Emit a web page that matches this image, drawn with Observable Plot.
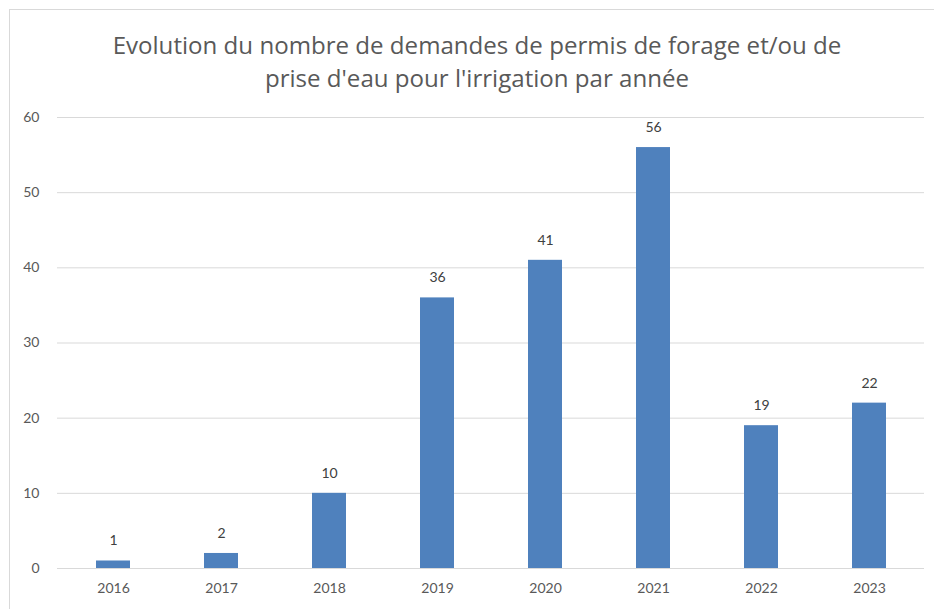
<!DOCTYPE html>
<html><head><meta charset="utf-8">
<script src="https://cdn.jsdelivr.net/npm/d3@7"></script>
<script src="https://cdn.jsdelivr.net/npm/@observablehq/plot@0.6"></script>
<style>
  body{margin:0;background:#fff;overflow:hidden;}
  #wrap{position:relative;width:934px;height:609px;overflow:hidden;font-family:Lato,"Open Sans",sans-serif;background:#fff;}
  #frame{position:absolute;left:9px;top:9px;width:1000px;height:1000px;border:1px solid #d9d9d9;box-sizing:border-box;}
  #title{position:absolute;left:10px;top:28px;width:934px;text-align:center;color:#595959;font-family:"Open Sans",Lato,sans-serif;font-size:22px;line-height:33px;white-space:nowrap;}
  #title span{display:block;}
  #chart{position:absolute;left:0;top:100px;}
</style>
</head><body>
<div id="wrap">
  <div id="frame"></div>
  <div id="title"><span id="t1">Evolution du nombre de demandes de permis de forage et/ou de</span><span id="t2">prise d'eau pour l'irrigation par année</span></div>
  <div id="chart"></div>
</div>
<script>
const years = ["2016","2017","2018","2019","2020","2021","2022","2023"];
const values = [1, 2, 10, 36, 41, 56, 19, 22];
const yTicks = [0, 10, 20, 30, 40, 50, 60];

const data = years.map((year, i) => ({year, value: values[i]}));

// fit title width to the reference line length
(function fitTitle(){
  const c = document.createElement("canvas").getContext("2d");
  c.font = "22px 'Open Sans'";
  const w = c.measureText(document.getElementById("t1").textContent).width;
  const size = Math.max(18, Math.min(26, 22 * 729 / w));
  document.getElementById("title").style.fontSize = size.toFixed(2) + "px";
})();

const chart = Plot.plot({
  width: 934,
  height: 509,
  marginTop: 17,
  marginBottom: 41,
  marginLeft: 57,
  marginRight: 10,
  style: {fontFamily: "Lato, 'Open Sans', sans-serif", fontSize: "14px", color: "#595959", background: "transparent", overflow: "visible"},
  x: {domain: years, paddingInner: 0.686, paddingOuter: 0.343, label: null, tickSize: 0, tickPadding: 15},
  y: {domain: [0, 60], ticks: yTicks, label: null, tickSize: 0, tickPadding: 18},
  marks: [
    Plot.gridY(yTicks, {stroke: "#d9d9d9", strokeOpacity: 1}),
    Plot.barY(data, {x: "year", y: "value", fill: "#4f81bd"}),
    Plot.text(data, {x: "year", y: "value", text: d => String(d.value), dy: -20, fill: "#404040", fontSize: 14})
  ]
});
document.getElementById("chart").appendChild(chart);
</script>
</body></html>
